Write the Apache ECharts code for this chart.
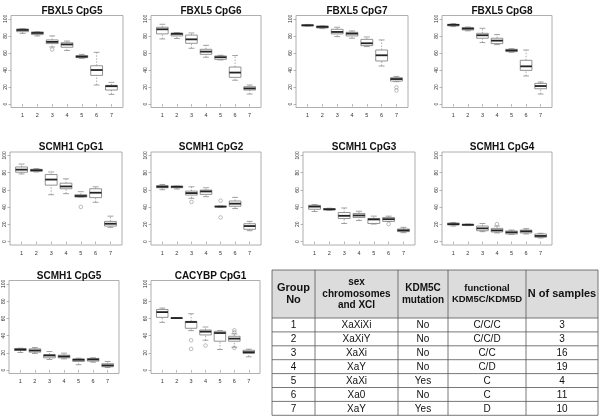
<!DOCTYPE html>
<html>
<head>
<meta charset="utf-8">
<script src="https://cdn.jsdelivr.net/npm/echarts@6/dist/echarts.min.js"></script>
<style>
  html, body { margin: 0; padding: 0; background: #fff; }
  #chart { width: 600px; height: 419px; }
</style>
</head>
<body>
<div id="chart"></div>
<script>
// group labels on the x axis
const groups = ['1', '2', '3', '4', '5', '6', '7'];
const yTicks = [0, 20, 40, 60, 80, 100];

const panelTitles = ['FBXL5 CpG5', 'FBXL5 CpG6', 'FBXL5 CpG7', 'FBXL5 CpG8',
  'SCMH1 CpG1', 'SCMH1 CpG2', 'SCMH1 CpG3', 'SCMH1 CpG4', 'SCMH1 CpG5', 'CACYBP CpG1'];

// [min, Q1, median, Q3, max] per group
const fbxl5CpG5 = [[83, 85, 87, 88.2, 88.5], [80, 81.6, 83.5, 84.7, 85], [67, 71, 73, 75.3, 80], [63, 66.7, 70, 72, 74], [53.7, 54.5, 55.7, 57, 58.4], [22.4, 33.7, 40, 45, 60.8], [11.4, 16.5, 21, 22, 25.5]];
const fbxl5CpG6 = [[76.5, 82.4, 87.8, 90.2, 93.7], [77, 80, 82.4, 83.5, 84], [65.5, 71.4, 76, 81, 83.5], [55, 58.4, 61.6, 64.3, 69], [51.8, 52.5, 55, 56.5, 57.3], [28, 31.4, 37, 43.5, 57], [11.8, 16.5, 18.4, 20.4, 22.4]];
const fbxl5CpG7 = [[91.5, 91.8, 92.5, 93, 93.5], [88.6, 89.4, 90.6, 91.8, 92], [79.2, 82.4, 84.7, 87.8, 90.2], [77.3, 80, 82.7, 84.3, 85.9], [67.5, 68.6, 71.4, 76, 78.8], [44.7, 50.6, 57.3, 63.5, 75.3], [26.3, 27, 29.4, 31, 32.5]];
const fbxl5CpG8 = [[91, 91.8, 93, 93.7, 94.5], [86, 87, 88.6, 89.8, 90.5], [72.2, 77.3, 80.8, 83.1, 89], [69.8, 71, 74.5, 77.3, 81.6], [60.8, 61.6, 63, 64.3, 65], [33, 39.6, 44.3, 51.4, 63.5], [11.8, 18, 21.2, 24.3, 25.9]];
const scmh1CpG1 = [[78.5, 80.5, 83.5, 86.6, 90], [80.8, 81.6, 82.8, 83.9, 84.7], [54.4, 65.5, 72, 77.8, 80.8], [55.6, 61.3, 64, 67.8, 72.8], [51.7, 51.7, 52.9, 54.4, 57.9], [45.6, 51, 56.7, 61.3, 63.6], [16.5, 18, 20.7, 23.4, 29.5]];
const scmh1CpG2 = [[60.2, 62.5, 63.6, 65.1, 66.3], [61, 62.5, 63.6, 64.4, 64.4], [50.2, 54, 56.3, 58.6, 63.6], [52.1, 54.8, 58.2, 59.8, 62.5], [40, 40.3, 40.6, 41, 41.3], [38.3, 41, 44, 47.1, 51.3], [12.6, 14.2, 18, 20.7, 23.4]];
const scmh1CpG3 = [[34.9, 37.5, 40.6, 42.1, 42.9], [36.4, 36.8, 37.5, 38.3, 38.7], [21, 26.8, 29.9, 33.7, 39], [24.5, 28, 30.3, 32.6, 35.2], [20.3, 21, 25.7, 26.8, 29.5], [23.4, 23.4, 26, 28, 29.5], [10.3, 11.5, 13, 14.6, 16.5]];
const scmh1CpG4 = [[18, 19.2, 20.3, 21.5, 22.2], [18.5, 18.8, 19.5, 20, 20.3], [11.5, 12.6, 15.3, 18, 21], [10, 11.1, 13, 15.3, 18], [8.4, 8.8, 10.7, 12.3, 13.4], [8.8, 10, 11.9, 13.4, 15], [4.2, 5, 6.5, 8.8, 9.6]];
const scmh1CpG5 = [[20.4, 22.7, 23.8, 25, 25.4], [19.2, 20.8, 22.7, 24.6, 26.2], [12.3, 14.2, 16.9, 18, 21.5], [13, 14.2, 15.8, 17.3, 19.6], [6.2, 10, 11.9, 13, 13.8], [9.2, 10.4, 12.3, 13.5, 14.2], [3, 3.8, 5.4, 7.3, 10]];
const cacybpCpG1 = [[55.4, 61.2, 67.3, 70.4, 72], [60, 60.2, 60.4, 60.6, 60.8], [45.8, 48.5, 55.8, 56.5, 65.4], [34.6, 40.8, 44.6, 46.5, 50], [23.8, 33.5, 43, 45, 45.8], [26.5, 33.5, 36.5, 39.2, 42], [15.4, 19.2, 20.8, 23, 24.2]];

// outliers: [group, value]
const fbxl5CpG5Out = [[3, 64]];
const fbxl5CpG6Out = [];
const fbxl5CpG7Out = [[7, 19.6], [7, 16]];
const fbxl5CpG8Out = [];
const scmh1CpG1Out = [[5, 40.2]];
const scmh1CpG2Out = [[3, 46], [5, 47.5], [5, 28]];
const scmh1CpG3Out = [[6, 20.3]];
const scmh1CpG4Out = [[4, 20.3]];
const scmh1CpG5Out = [];
const cacybpCpG1Out = [[3, 34.6], [3, 24.6], [4, 28.5], [6, 46.2], [6, 43.8], [6, 25.8]];

// table
const tableHeader = ['Group\nNo', 'sex\nchromosomes\nand XCI', 'KDM5C\nmutation', 'functional\nKDM5C/KDM5D', 'N of samples'];
const groupNo = ['1', '2', '3', '4', '5', '6', '7'];
const sexChrom = ['XaXiXi', 'XaXiY', 'XaXi', 'XaY', 'XaXi', 'Xa0', 'XaY'];
const mutation = ['No', 'No', 'No', 'No', 'Yes', 'No', 'Yes'];
const functional = ['C/C/C', 'C/C/D', 'C/C', 'C/D', 'C', 'C', 'D'];
const nSamples = ['3', '3', '16', '19', '4', '11', '10'];

const stats = [fbxl5CpG5, fbxl5CpG6, fbxl5CpG7, fbxl5CpG8, scmh1CpG1, scmh1CpG2, scmh1CpG3, scmh1CpG4, scmh1CpG5, cacybpCpG1];
const outs = [fbxl5CpG5Out, fbxl5CpG6Out, fbxl5CpG7Out, fbxl5CpG8Out, scmh1CpG1Out, scmh1CpG2Out, scmh1CpG3Out, scmh1CpG4Out, scmh1CpG5Out, cacybpCpG1Out];

// plot frames [left, top, width, height]
const frames = [
  [11, 15.5, 112, 92], [151, 15.5, 110, 92], [296, 15.5, 112, 92], [442, 15.5, 110, 92],
  [10, 152, 112, 93], [151, 152, 110, 93], [303, 152, 112, 93], [442, 152, 110, 93],
  [9, 280.5, 110, 93], [151, 280.5, 109, 93]
];
const titleTops = [1, 1, 1, 1, 137, 137, 137, 137, 266, 266];

const FONT = '"Liberation Sans", Arial, Helvetica, sans-serif';

function renderBox(params, api) {
  const x = api.value(0);
  const lo = api.coord([x, api.value(1)]);
  const q1 = api.coord([x, api.value(2)]);
  const med = api.coord([x, api.value(3)]);
  const q3 = api.coord([x, api.value(4)]);
  const hi = api.coord([x, api.value(5)]);
  const half = api.size([1, 0])[0] * 0.4;
  const cx = lo[0];
  const thin = { stroke: '#8a8a8a', lineWidth: 0.8 };
  return {
    type: 'group',
    children: [
      { type: 'line', shape: { x1: cx, y1: lo[1], x2: cx, y2: q1[1] }, style: { stroke: '#8a8a8a', lineWidth: 0.7, lineDash: [1.5, 1.5] } },
      { type: 'line', shape: { x1: cx, y1: q3[1], x2: cx, y2: hi[1] }, style: { stroke: '#8a8a8a', lineWidth: 0.7, lineDash: [1.5, 1.5] } },
      { type: 'line', shape: { x1: cx - half / 2, y1: lo[1], x2: cx + half / 2, y2: lo[1] }, style: thin },
      { type: 'line', shape: { x1: cx - half / 2, y1: hi[1], x2: cx + half / 2, y2: hi[1] }, style: thin },
      { type: 'rect', shape: { x: cx - half, y: q3[1], width: half * 2, height: Math.max(q1[1] - q3[1], 0.5) }, style: { fill: '#fff', stroke: '#777', lineWidth: 0.8 } },
      { type: 'line', shape: { x1: cx - half, y1: med[1], x2: cx + half, y2: med[1] }, style: { stroke: '#222', lineWidth: 1.8 } }
    ]
  };
}

const grid = [], xAxis = [], yAxis = [], series = [], title = [];
frames.forEach(function (f, i) {
  grid.push({ left: f[0], top: f[1], width: f[2], height: f[3], show: true, borderColor: '#9a9a9a', borderWidth: 0.8, backgroundColor: '#fff' });
  title.push({
    text: panelTitles[i], left: f[0] + f[2] / 2, top: titleTops[i], textAlign: 'center',
    textStyle: { fontFamily: FONT, fontSize: 10, fontWeight: 'bold', color: '#111' }
  });
  xAxis.push({
    type: 'value', gridIndex: i, min: 0.22, max: 7.78,
    axisLine: { show: false }, splitLine: { show: false },
    axisTick: { show: true, customValues: [1, 2, 3, 4, 5, 6, 7], length: 2.5, lineStyle: { color: '#888', width: 0.6 } },
    axisLabel: { customValues: [1, 2, 3, 4, 5, 6, 7], formatter: function (v) { return groups[v - 1]; }, fontSize: 5.5, color: '#333', fontFamily: FONT, margin: 5 }
  });
  yAxis.push({
    type: 'value', gridIndex: i, min: -4, max: 104,
    axisLine: { show: false }, splitLine: { show: false },
    axisTick: { show: true, customValues: yTicks, length: 2.5, lineStyle: { color: '#888', width: 0.6 } },
    axisLabel: { customValues: yTicks, rotate: 90, fontSize: 5, color: '#333', fontFamily: FONT, margin: 3 }
  });
  series.push({
    type: 'custom', xAxisIndex: i, yAxisIndex: i, renderItem: renderBox,
    encode: { x: 0, y: [1, 2, 3, 4, 5] },
    data: stats[i].map(function (s, k) { return [k + 1].concat(s); }),
    silent: true
  });
  series.push({
    type: 'scatter', xAxisIndex: i, yAxisIndex: i, symbol: 'circle', symbolSize: 3.6,
    itemStyle: { color: 'rgba(255,255,255,0)', borderColor: '#8a8a8a', borderWidth: 0.7 },
    data: outs[i], silent: true, z: 3
  });
});

// table drawn with graphic elements
const colEdges = [272, 315, 398, 448, 526, 598];
const headTop = 270, headH = 48, rowH = 13.9;
const cols = [groupNo, sexChrom, mutation, functional, nSamples];
const headFont = [11, 10, 10, 9.5, 11];
const graphics = [];
const bottom = headTop + headH + rowH * groupNo.length;
graphics.push({ type: 'rect', shape: { x: colEdges[0], y: headTop, width: colEdges[5] - colEdges[0], height: headH }, style: { fill: '#dcdcdc' } });
tableHeader.forEach(function (h, c) {
  graphics.push({
    type: 'text', x: (colEdges[c] + colEdges[c + 1]) / 2, y: headTop + headH / 2,
    style: { text: h, fill: '#111', font: 'bold ' + headFont[c] + 'px ' + FONT, align: 'center', verticalAlign: 'middle', lineHeight: headFont[c] + 1.5 }
  });
});
cols.forEach(function (col, c) {
  col.forEach(function (v, r) {
    graphics.push({
      type: 'text', x: (colEdges[c] + colEdges[c + 1]) / 2, y: headTop + headH + rowH * (r + 0.5) + 0.5,
      style: { text: v, fill: '#111', font: '10px ' + FONT, align: 'center', verticalAlign: 'middle' }
    });
  });
});
for (let r = 0; r <= groupNo.length + 1; r++) {
  const y = r === 0 ? headTop : headTop + headH + rowH * (r - 1);
  graphics.push({ type: 'line', shape: { x1: colEdges[0], y1: y, x2: colEdges[5], y2: y }, style: { stroke: '#555', lineWidth: 0.8 } });
}
colEdges.forEach(function (x) {
  graphics.push({ type: 'line', shape: { x1: x, y1: headTop, x2: x, y2: bottom }, style: { stroke: '#555', lineWidth: 0.8 } });
});

const chart = echarts.init(document.getElementById('chart'));
chart.setOption({
  animation: false,
  backgroundColor: '#fff',
  title: title,
  grid: grid,
  xAxis: xAxis,
  yAxis: yAxis,
  series: series,
  graphic: graphics
});
</script>
</body>
</html>
